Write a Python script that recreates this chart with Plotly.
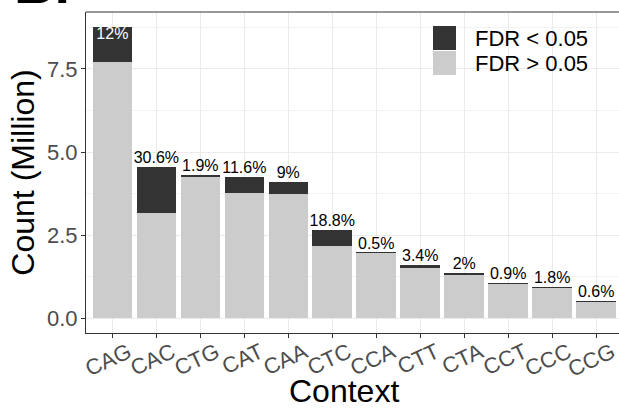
import plotly.graph_objects as go

contexts = ["CAG", "CAC", "CTG", "CAT", "CAA", "CTC", "CCA", "CTT", "CTA", "CCT", "CCC", "CCG"]
total_million = [8.77, 4.56, 4.32, 4.26, 4.11, 2.67, 1.98, 1.59, 1.35, 1.05, 0.93, 0.51]
pct_sig = [12.0, 30.6, 1.9, 11.6, 9.0, 18.8, 0.5, 3.4, 2.0, 0.9, 1.8, 0.6]
pct_labels = ["12%", "30.6%", "1.9%", "11.6%", "9%", "18.8%", "0.5%", "3.4%", "2%", "0.9%", "1.8%", "0.6%"]
y_ticks = [0.0, 2.5, 5.0, 7.5]
y_tick_labels = ["0.0", "2.5", "5.0", "7.5"]
legend_labels = ["FDR < 0.05", "FDR > 0.05"]

DARK = "#333333"
LIGHT = "#CCCCCC"
FONT = "Liberation Sans, Arial, sans-serif"

L, T, W, H = 86, 12, 533, 321

sig = [t * p / 100 for t, p in zip(total_million, pct_sig)]
nonsig = [t - s for t, s in zip(total_million, sig)]
xs = list(range(len(contexts)))

fig = go.Figure()
fig.add_trace(go.Bar(x=xs, y=nonsig, width=0.9, marker=dict(color=LIGHT, line=dict(width=0)),
                     name=legend_labels[1], showlegend=False))
fig.add_trace(go.Bar(x=xs, y=sig, width=0.9, marker=dict(color=DARK, line=dict(width=0)),
                     name=legend_labels[0], showlegend=False))

pos = ["bottom center" if i == 0 else "top center" for i in xs]
cols = ["white" if i == 0 else "black" for i in xs]
fig.add_trace(go.Scatter(x=xs, y=total_million, mode="text", text=pct_labels,
                         textposition=pos, textfont=dict(size=16, color=cols, family=FONT),
                         showlegend=False, hoverinfo="skip", cliponaxis=False))

fig.update_layout(
    width=619, height=409,
    margin=dict(l=L, r=619 - L - W, t=T, b=409 - T - H),
    barmode="stack",
    plot_bgcolor="white", paper_bgcolor="white",
    font=dict(family=FONT, color="black"),
    showlegend=False,
)
fig.update_xaxes(
    automargin=False,
    range=[-0.6, 11.52], tickmode="array", tickvals=xs, ticktext=contexts,
    tickangle=-25, tickfont=dict(size=22, color="#4D4D4D", family=FONT),
    ticklabelstandoff=-7, ticklabelshift=16,
    ticks="outside", ticklen=4, tickcolor=DARK, showline=True, linecolor=DARK, linewidth=1.2,
    showgrid=True, gridcolor="#EBEBEB", gridwidth=1.2, zeroline=False,
)
fig.update_yaxes(
    automargin=False,
    range=[-0.44, 9.21], tickmode="array", tickvals=y_ticks, ticktext=y_tick_labels,
    tickfont=dict(size=22, color="#4D4D4D", family=FONT),
    ticklabelstandoff=-1,
    ticks="outside", ticklen=4, tickcolor=DARK, showline=True, linecolor=DARK, linewidth=1.2,
    showgrid=True, gridcolor="#EBEBEB", gridwidth=1.2, zeroline=False,
    minor=dict(tickvals=[1.25, 3.75, 6.25, 8.75], showgrid=True, gridcolor="#F3F3F3", gridwidth=0.8),
    title=dict(text="Count (Million)", font=dict(size=32, family=FONT), standoff=2),
)
fig.add_shape(type="line", xref="paper", yref="paper", x0=0, x1=1, y0=1, y1=1,
              line=dict(color=DARK, width=1.2))

# x-axis title
fig.add_annotation(xref="paper", yref="paper", x=(344 - L) / W, y=1 - (391 - T) / H,
                   text="Context", showarrow=False, xanchor="center", yanchor="middle",
                   font=dict(size=32, family=FONT, color="black"))

# manual legend
lx0, lx1 = 433, 456
for i, (lab, col) in enumerate(zip(legend_labels, [DARK, LIGHT])):
    y0 = 26 + i * 25
    fig.add_shape(type="rect", xref="paper", yref="paper",
                  x0=(lx0 - L) / W, x1=(lx1 - L) / W,
                  y0=1 - (y0 + 24 - T) / H, y1=1 - (y0 - T) / H,
                  fillcolor=col, line=dict(width=0))
    fig.add_annotation(xref="paper", yref="paper", x=(473 - L) / W, y=1 - (y0 + 12 - T) / H,
                       text=lab, showarrow=False, xanchor="left", yanchor="middle",
                       font=dict(size=22, family=FONT, color="black"))

# panel tag, cut off at the top edge as in the reference
fig.add_annotation(xref="paper", yref="paper", x=(12 - L) / W, y=1 + (T - 17) / H,
                   text="<b>B.</b>", showarrow=False, xanchor="left", yanchor="bottom",
                   font=dict(size=56, family=FONT, color="black"))

fig.write_html("out.html", config={"displayModeBar": False},
               post_script="document.body.style.margin='0';document.body.style.overflow='hidden';")
